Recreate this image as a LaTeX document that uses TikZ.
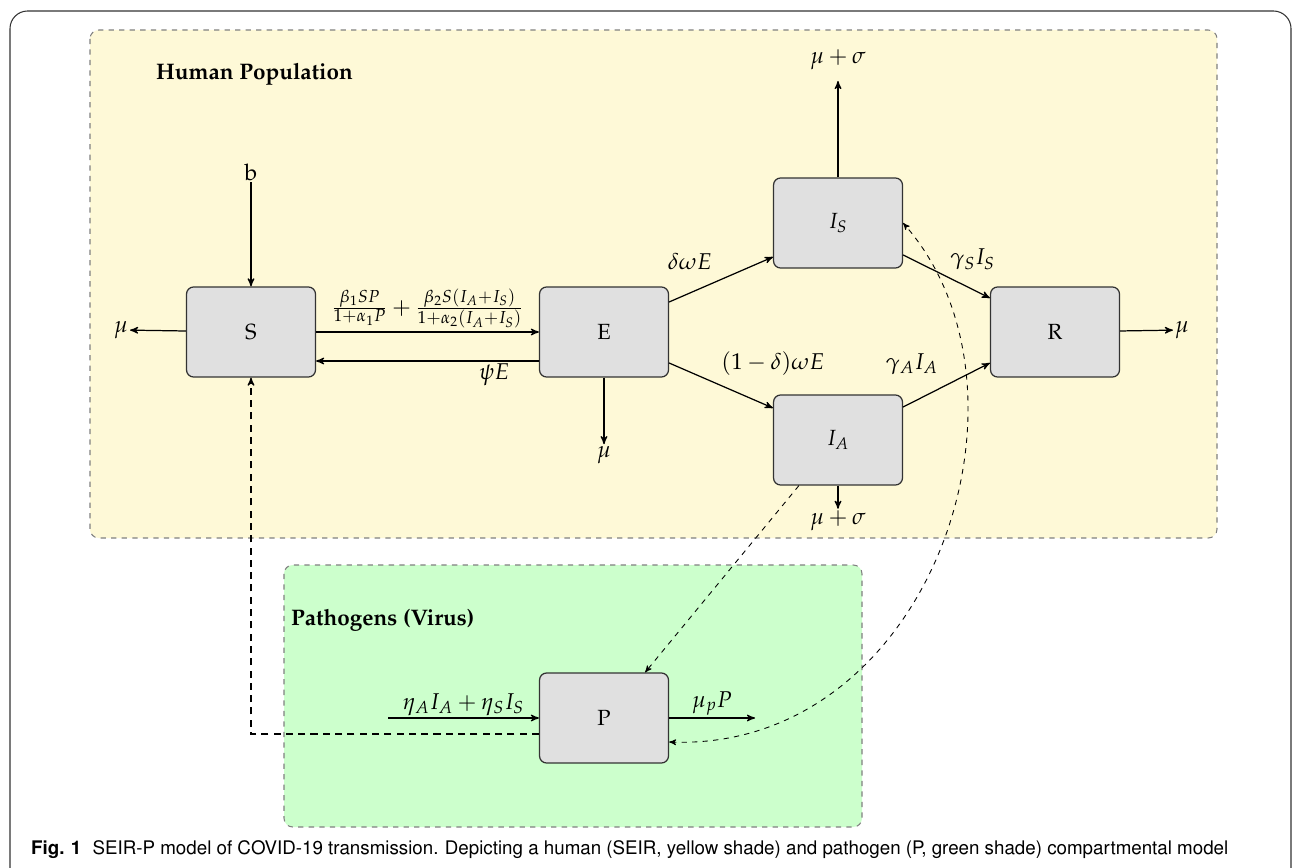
\documentclass[tikz,border=0pt]{standalone}
\usepackage[T1]{fontenc}
\usepackage{mathpazo}
\usepackage[scaled=0.92]{helvet}
\usepackage{amsmath}
\usepackage{tikz}
\usetikzlibrary{arrows,calc}

\definecolor{humanbg}{RGB}{254,249,215}
\definecolor{virusbg}{RGB}{204,255,204}
\definecolor{compfill}{RGB}{224,224,224}

\tikzset{
	comp/.style={draw=black!80, fill=compfill, rounded corners=4pt, line width=0.7pt,
		minimum width=2.58cm, minimum height=1.8cm, font=\fontsize{12.5}{15}\selectfont},
	flow/.style={->, >=stealth', line width=0.7pt},
	link/.style={flow, dashed},
	region/.style={draw=gray, dashed, rounded corners=5pt, line width=0.6pt},
	lbl/.style={font=\fontsize{13}{15}\selectfont, inner sep=1pt},
}

\begin{document}
\begin{tikzpicture}[x=0.02cm, y=-0.02cm]
		\useasboundingbox (0,0) rectangle (1295,868);
		\draw[black!80, line width=0.6pt, rounded corners=10pt] (10,870) -- (10,11) -- (1291,11) -- (1291,870);
		
		% shaded regions
		\draw[region, fill=humanbg] (90,30) rectangle (1217,538);
		\draw[region, fill=virusbg] (284,565) rectangle (862,827);
		\node[anchor=west, font=\bfseries\fontsize{12.8}{15}\selectfont] (hum) at (150,74) {Human Population};
		\node[anchor=west, font=\bfseries\fontsize{12.8}{15}\selectfont] (vir) at (285,620) {Pathogens (Virus)};
		
		% compartments
		\node[comp] (S) at (251,332) {S};
		\node[comp] (E) at (604,332) {E};
		\node[comp] (IS) at (838,223) {$I_S$};
		\node[comp] (IA) at (838,440) {$I_A$};
		\node[comp] (R) at (1055,332) {R};
		\node[comp] (P) at (604,718) {P};
		
		\node[lbl] (b) at (251,172) {b};
		\node[lbl] (muS) at (121,330) {$\mu$};
		\node[lbl] (muE) at (604,455) {$\mu$};
		\node[lbl] (muIS) at (838,60) {$\mu+\sigma$};
		\node[lbl] (muIA) at (838,521) {$\mu+\sigma$};
		\node[lbl] (muR) at (1182,330) {$\mu$};
		\coordinate (shed) at (388,718);
		\coordinate (decay) at (755,718);
		
		\draw[flow] (b) -- (S);
		\draw[flow] (S) -- (muS);
		\draw[flow] (S.east) -- (E.west) 
			node[midway, above=1pt, lbl] (force) {$\frac{\beta_1SP}{1+\alpha_1P}+\frac{\beta_2S(I_A+I_S)}{1+\alpha_2(I_A+I_S)}$};
		\draw[flow] ([yshift=-0.58cm]E.west) -- ([yshift=-0.58cm]S.east) 
			node[pos=0.2, below, lbl] (back) {$\psi E$};
		\draw[flow] (E) -- (muE);
		\draw[flow] ([yshift=0.6cm]E.east) -- ([yshift=-0.68cm]IS.west) 
			node[pos=0.2, above=0.42cm, lbl] (sym) {$\delta\omega E$};
		\draw[flow] ([yshift=-0.62cm]E.east) -- ([yshift=0.64cm]IA.west) 
			node[pos=1, above=0.6cm, lbl] (asym) {$(1-\delta)\omega E$};
		\draw[flow] ([yshift=-0.64cm]IS.east) -- ([yshift=0.68cm]R.west) 
			node[pos=0.8, above=0.34cm, lbl] (recS) {$\gamma_SI_S$};
		\draw[flow] ([yshift=0.66cm]IA.east) -- ([yshift=-0.62cm]R.west) 
			node[pos=0.1, above=0.52cm, lbl] (recA) {$\gamma_AI_A$};
		\draw[flow, shorten >=5pt] (IS) -- (muIS);
		\draw[flow] (IA) -- (muIA);
		\draw[flow] (R) -- (muR);
		\draw[flow] (shed) -- (P.west) 
			node[midway, above, lbl] (eta) {$\eta_AI_A+\eta_SI_S$};
		\draw[flow] (P.east) -- (decay) 
			node[midway, above, lbl] (mup) {$\mu_pP$};
		
		% indirect links
		\draw[link, dash pattern=on 4pt off 3pt] ([yshift=-0.32cm]P.west) -| (S.south);
		\draw[link, line width=0.5pt] ([xshift=0.52cm]IA.south west) -- ([xshift=-0.48cm]P.north east);
		\draw[link, line width=0.5pt, <->] ([yshift=-0.48cm]P.east) .. controls (930,752) and (1052,392) .. (IS.east);
		
		\node[anchor=west, font=\sffamily\fontsize{11.6}{13}\selectfont] (cap) at (25,850) 
			{\textbf{Fig. 1}\hspace{0.6em}SEIR-P model of COVID-19 transmission. Depicting a human (SEIR, yellow shade) and pathogen (P, green shade) compartmental model};
	\end{tikzpicture}
\end{document}
